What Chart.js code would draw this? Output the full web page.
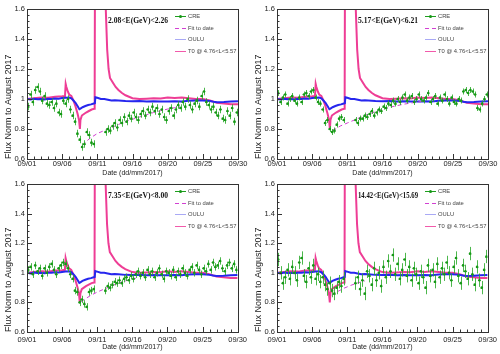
<!DOCTYPE html>
<html>
<head>
<meta charset="utf-8">
<script src="https://cdn.jsdelivr.net/npm/chart.js@4.4.1/dist/chart.umd.min.js"></script>
<style>
  html, body { margin: 0; padding: 0; background: #fff; }
  #wrap { position: relative; width: 500px; height: 354px; overflow: hidden; }
  .pane { position: absolute; width: 250px; height: 177px; }
</style>
</head>
<body>
<div id="wrap">
  <div class="pane" style="left:0;top:0"><canvas id="c1" width="250" height="177"></canvas></div>
  <div class="pane" style="left:250px;top:0"><canvas id="c2" width="250" height="177"></canvas></div>
  <div class="pane" style="left:0;top:177px"><canvas id="c3" width="250" height="177"></canvas></div>
  <div class="pane" style="left:250px;top:177px"><canvas id="c4" width="250" height="177"></canvas></div>
</div>
<script>
// x axis = days since 09/01 00:00
var dateLabels = ['09/01', '09/06', '09/11', '09/16', '09/20', '09/25', '09/30'];
var energyLabels = ['2.08<E(GeV)<2.26', '5.17<E(GeV)<6.21', '7.35<E(GeV)<8.00', '14.42<E(GeV)<15.69'];

// CRE, 8 hour bins (3 per day), null = no data during the SEP event
var creP1 = [0.95, 1.03, 0.98, 1.06, 1.08, 1.05, 0.99, 1.02, 0.97,
             0.96, 0.98, 0.94, 0.97, 0.91, 0.90, 0.99, 0.97, 1.00,
             0.93, 0.89, 0.85, 0.77, 0.73, 0.68, 0.70, 0.78, 0.76,
             0.71, 0.70, null, null, null, null, 0.78, 0.80, 0.79,
             0.82, 0.84, 0.81, 0.86, 0.84, 0.88, 0.85, 0.89, 0.87,
             0.91, 0.88, 0.86, 0.90, 0.92, 0.89, 0.93, 0.91, 0.95,
             0.92, 0.94, 0.90, 0.93, 0.88, 0.86, 0.92, 0.94, 0.89,
             0.93, 0.96, 0.94, 0.98, 0.95, 1.00, 0.96, 0.93, 0.97,
             0.99, 0.95, 1.02, 1.05, 0.98, 0.96, 0.93, 0.95, 0.91,
             0.89, 0.93, 0.87, 0.86, 0.92, 0.89, 0.94, 0.85, 0.91];
var creP2 = [1.04, 0.98, 1.01, 1.03, 0.97, 1.00, 1.02, 0.99, 0.97,
             1.01, 0.98, 1.03, 1.04, 1.02, 1.05, 1.06, 1.01, 0.98,
             0.97, 0.93, 0.84, 0.86, 0.80, 0.78, 0.79, 0.83, 0.87,
             0.88, 0.86, null, null, null, null, 0.86, 0.84, 0.87,
             0.87, 0.89, 0.88, 0.90, 0.92, 0.89, 0.91, 0.93, 0.92,
             0.95, 0.94, 0.97, 0.96, 0.99, 0.97, 1.00, 0.98, 1.01,
             1.03, 0.99, 1.01, 1.02, 0.98, 1.00, 1.03, 1.00, 0.99,
             1.01, 1.04, 0.98, 1.00, 1.02, 0.97, 1.01, 0.99, 1.03,
             1.00, 0.97, 1.01, 0.98, 0.97, 1.00, 0.99, 1.05, 1.06,
             1.04, 1.06, 1.05, 1.03, 0.94, 0.93, 0.97, 1.00, 1.03];
var creP3 = [1.02, 1.04, 0.99, 1.05, 1.01, 1.03, 0.98, 1.03, 1.00,
             1.04, 1.06, 1.02, 0.99, 1.03, 1.05, 1.07, 1.06, 1.03,
             0.99, 0.96, 0.88, 0.87, 0.80, 0.82, 0.79, 0.77, 0.87,
             0.88, 0.89, null, null, null, null, 0.88, 0.91, 0.90,
             0.92, 0.94, 0.93, 0.95, 0.93, 0.96, 0.97, 0.95, 0.98,
             0.96, 0.99, 1.01, 0.98, 1.00, 0.97, 1.02, 0.99, 1.01,
             0.97, 1.00, 1.03, 0.99, 0.96, 1.01, 1.00, 0.98, 1.02,
             0.97, 1.01, 0.99, 1.03, 1.00, 0.98, 1.02, 1.04, 1.00,
             1.05, 1.02, 0.99, 1.03, 1.01, 1.06, 1.02, 1.07, 1.04,
             1.05, 1.08, 1.03, 1.01, 1.05, 1.07, 1.03, 1.06, 1.02];
var creP4 = [1.09, 1.00, 0.93, 0.97, 1.02, 0.96, 1.04, 1.00, 0.95,
             1.07, 1.10, 0.98, 0.94, 1.03, 0.97, 1.05, 0.96, 0.99,
             0.94, 0.97, 0.92, 0.89, 0.93, 0.88, 0.86, 0.90, 0.94,
             0.91, 0.96, null, null, null, null, 0.93, 0.97, 0.89,
             0.95, 0.86, 1.01, 0.98, 0.92, 1.03, 0.95, 1.00, 0.91,
             1.04, 0.97, 1.08, 1.01, 1.12, 0.99, 1.06, 0.96, 1.02,
             1.09, 0.98, 1.04, 0.95, 1.03, 0.99, 0.93, 1.01, 0.97,
             0.90, 1.05, 0.98, 1.02, 0.94, 1.06, 0.97, 1.03, 0.99,
             1.07, 1.00, 0.95, 1.04, 1.10, 0.98, 0.93, 1.05, 1.01,
             0.96, 1.13, 0.99, 0.92, 1.04, 0.95, 0.90, 1.02, 1.11];
var creErr = [0.025, 0.02, 0.025, 0.045];

// fit to data after the Forbush decrease
var fitDays1 = [7.9, 8.5, 9, 10, 11, 12, 13, 14, 15, 16, 17, 18, 19, 20, 21, 21.8];
var fitP1 = [0.69, 0.72, 0.74, 0.77, 0.79, 0.81, 0.83, 0.85, 0.865, 0.88, 0.895, 0.91, 0.922, 0.933, 0.942, 0.948];
var fitDays2 = [7.9, 8.5, 9, 10, 11, 12, 13, 14, 15, 16, 17, 18, 19, 20, 20.8];
var fitP2 = [0.79, 0.805, 0.82, 0.84, 0.86, 0.88, 0.9, 0.915, 0.93, 0.945, 0.955, 0.965, 0.973, 0.98, 0.985];
var fitDays3 = [7.7, 8.5, 9, 10, 11, 12, 13, 14, 15, 15.5];
var fitP3 = [0.805, 0.83, 0.845, 0.87, 0.89, 0.91, 0.93, 0.945, 0.958, 0.963];
var fitDays4 = [7.8, 8.5, 9.5, 10.5, 11.5, 12.5];
var fitP4 = [0.85, 0.87, 0.895, 0.915, 0.932, 0.945];

// OULU neutron monitor
var ouluDays = [0, 0.5, 1, 1.5, 2, 2.5, 3, 3.5, 4, 4.5,
                5, 5.5, 6, 6.3, 6.6, 6.9, 7.2, 7.45, 7.6, 7.9,
                8.3, 8.7, 9.1, 9.5, 9.65, 9.72, 10, 10.5, 11, 11.5,
                12, 12.5, 13, 14, 15, 16, 17, 18, 19, 20,
                21, 22, 23, 24, 25, 26, 26.5, 27, 28, 29, 30];
var ouluFlux = [1.0, 0.996, 1.002, 0.998, 1.0, 0.997, 1.001, 1.0, 1.003, 1.002,
                1.006, 1.008, 1.01, 1.004, 0.99, 0.975, 0.952, 0.932, 0.936, 0.945,
                0.953, 0.96, 0.964, 0.97, 0.972, 1.012, 1.008, 1.0, 1.0, 0.995,
                0.99, 0.992, 0.99, 0.986, 0.985, 0.986, 0.984, 0.985, 0.983, 0.984,
                0.985, 0.984, 0.988, 0.99, 0.99, 0.986, 0.982, 0.979, 0.98, 0.983, 0.985];

// T0 @ 4.76<L<5.57 (goes far off scale during the GLE)
var t0Days = [0, 1, 2, 3, 4, 5, 5.4, 5.5, 5.6, 5.8,
              6.0, 6.3, 6.6, 6.9, 7.2, 7.4, 7.52, 7.6, 7.8, 8.1,
              8.4, 8.8, 9.2, 9.55, 9.62, 9.7, 11.0, 11.2, 11.4, 11.6,
              11.8, 12.2, 12.6, 13.0, 13.5, 14, 14.5, 15, 16, 17,
              18, 19, 20, 21, 22, 23, 24, 25, 26, 27,
              28, 29, 30];
var t0Flux = [1.0, 1.005, 1.01, 1.008, 1.015, 1.018, 1.02, 1.1, 1.08, 1.05,
              1.03, 1.02, 0.99, 0.95, 0.9, 0.86, 0.8, 0.86, 0.89, 0.9,
              0.91, 0.92, 0.93, 0.935, 1.0, 2.5, 2.5, 1.6, 1.33, 1.2,
              1.14, 1.11, 1.08, 1.06, 1.04, 1.025, 1.015, 1.005, 1.0, 1.002,
              1.005, 1.004, 1.01, 1.006, 1.01, 1.005, 1.0, 1.0, 0.99, 0.975,
              0.97, 0.965, 0.965];

var FONT = '"Liberation Sans", Arial, sans-serif';

function xy(days, vals) {
    return vals.map(function (v, i) { return { x: days[i], y: v }; });
}

// ROOT style frame, inward ticks, energy label, error bars and legend
var rootStyle = {
    id: 'rootStyle',
    beforeDatasetDraw: function (chart, args) {
        var ds = chart.data.datasets[args.index];
        if (!ds.err) return;
        var ctx = chart.ctx, a = chart.chartArea, xs = chart.scales.x, ys = chart.scales.y;
        ctx.save();
        ctx.beginPath();
        ctx.rect(a.left, a.top, a.right - a.left, a.bottom - a.top);
        ctx.clip();
        ctx.strokeStyle = ds.barColor;
        ctx.lineWidth = 1;
        ctx.beginPath();
        ds.data.forEach(function (p) {
            if (p.y === null) return;
            var px = Math.round(xs.getPixelForValue(p.x)) + 0.5;
            var py = ys.getPixelForValue(p.y);
            ctx.moveTo(px, ys.getPixelForValue(p.y + ds.err));
            ctx.lineTo(px, ys.getPixelForValue(p.y - ds.err));
            ctx.moveTo(xs.getPixelForValue(p.x - 1 / 6), Math.round(py) + 0.5);
            ctx.lineTo(xs.getPixelForValue(p.x + 1 / 6), Math.round(py) + 0.5);
        });
        ctx.stroke();
        ctx.restore();
    },
    afterDraw: function (chart, args, opts) {
        var ctx = chart.ctx, a = chart.chartArea, xs = chart.scales.x, ys = chart.scales.y;
        ctx.save();
        ctx.strokeStyle = '#333';
        ctx.lineWidth = 1;
        ctx.strokeRect(Math.round(a.left) + 0.5, Math.round(a.top) + 0.5,
                       Math.round(a.right - a.left), Math.round(a.bottom - a.top));
        ctx.beginPath();
        var d, k, px, py, len;
        for (d = 0; d <= 30; d++) {
            px = Math.round(xs.getPixelForValue(d)) + 0.5;
            len = d % 5 === 0 ? 5 : 2.5;
            ctx.moveTo(px, a.bottom);
            ctx.lineTo(px, a.bottom - len);
        }
        for (k = 0; k <= 25; k++) {
            py = Math.round(ys.getPixelForValue(0.6 + k * 0.04)) + 0.5;
            len = k % 5 === 0 ? 5 : 2.5;
            ctx.moveTo(a.left, py);
            ctx.lineTo(a.left + len, py);
        }
        ctx.stroke();

        // energy range label
        ctx.fillStyle = '#111';
        ctx.font = 'bold 8px "Liberation Serif", "Times New Roman", serif';
        ctx.textBaseline = 'middle';
        ctx.textAlign = 'left';
        ctx.fillText(opts.label, a.left + 81, a.top + 12, 60);

        // legend
        var x0 = a.left + 148, y0 = a.top + 7;
        ctx.font = '5.8px ' + FONT;
        chart.data.datasets.forEach(function (ds, i) {
            var yy = Math.round(y0 + i * 11.6) + 0.5;
            ctx.strokeStyle = ds.legendColor;
            ctx.lineWidth = 1;
            ctx.setLineDash(ds.borderDash || []);
            ctx.beginPath();
            ctx.moveTo(x0, yy);
            ctx.lineTo(x0 + 11, yy);
            ctx.stroke();
            ctx.setLineDash([]);
            if (ds.err) {
                ctx.fillStyle = ds.pointBackgroundColor;
                ctx.beginPath();
                ctx.arc(x0 + 5.5, yy, 1.5, 0, Math.PI * 2);
                ctx.fill();
            }
            ctx.fillStyle = '#444';
            ctx.fillText(ds.label, x0 + 13, yy);
        });
        ctx.restore();
    }
};

function makePanel(id, row, n, cre, fitDays, fitVals) {
    var creDays = cre.map(function (v, i) { return (i + 0.5) / 3; });
    new Chart(document.getElementById(id), {
        type: 'scatter',
        data: {
            datasets: [{
                label: 'CRE',
                data: xy(creDays, cre),
                showLine: false,
                pointRadius: 1.3,
                pointBorderWidth: 0,
                pointBackgroundColor: '#169816',
                borderColor: '#169816',
                barColor: 'rgba(45,170,45,0.85)',
                legendColor: '#1e9e1e',
                err: creErr[n],
                order: 1
            }, {
                label: 'Fit to date',
                data: xy(fitDays, fitVals),
                showLine: true,
                pointRadius: 0,
                borderColor: '#d23fd2',
                legendColor: '#d23fd2',
                borderWidth: 1,
                borderDash: [4, 3],
                order: 2
            }, {
                label: 'OULU',
                data: xy(ouluDays, ouluFlux),
                showLine: true,
                pointRadius: 0,
                borderColor: '#2626ee',
                legendColor: '#a9a9f5',
                borderWidth: 2,
                order: 3
            }, {
                label: 'T0 @ 4.76<L<5.57',
                data: xy(t0Days, t0Flux),
                showLine: true,
                pointRadius: 0,
                borderColor: '#ee3d95',
                legendColor: '#f25aab',
                borderWidth: 2,
                order: 4
            }]
        },
        options: {
            responsive: false,
            animation: false,
            devicePixelRatio: 1,
            layout: { padding: { left: 0, right: 12, top: row ? 7 : 9, bottom: row ? 3 : 0 } },
            scales: {
                x: {
                    type: 'linear', min: 0, max: 30,
                    afterFit: function (s) { s.height = row ? 19 : 18; },
                    grid: { display: false, drawTicks: false },
                    border: { display: false },
                    ticks: {
                        stepSize: 5, autoSkip: false, maxRotation: 0, padding: row ? 3 : 0,
                        color: '#222', font: { family: FONT, size: 7.5 },
                        callback: function (v) { return dateLabels[Math.round(v / 5)]; }
                    },
                    title: {
                        display: true, text: 'Date (dd/mm/2017)', padding: 0,
                        color: '#222', font: { family: FONT, size: 7 }
                    }
                },
                y: {
                    min: 0.6, max: 1.6,
                    afterFit: function (s) { s.width = 27; },
                    grid: { display: false, drawTicks: false },
                    border: { display: false },
                    ticks: {
                        stepSize: 0.2, padding: 2, color: '#222', font: { family: FONT, size: 7.5 },
                        callback: function (v) { return String(Math.round(v * 10) / 10); }
                    },
                    title: {
                        display: true, text: 'Flux Norm to August 2017', align: 'start',
                        padding: { top: 3, bottom: 0 },
                        color: '#222', font: { family: FONT, size: 9 }
                    }
                }
            },
            plugins: {
                legend: { display: false },
                tooltip: { enabled: false },
                rootStyle: { label: energyLabels[n] }
            }
        },
        plugins: [rootStyle]
    });
}

makePanel('c1', 0, 0, creP1, fitDays1, fitP1);
makePanel('c2', 0, 1, creP2, fitDays2, fitP2);
makePanel('c3', 1, 2, creP3, fitDays3, fitP3);
makePanel('c4', 1, 3, creP4, fitDays4, fitP4);
</script>
</body>
</html>
